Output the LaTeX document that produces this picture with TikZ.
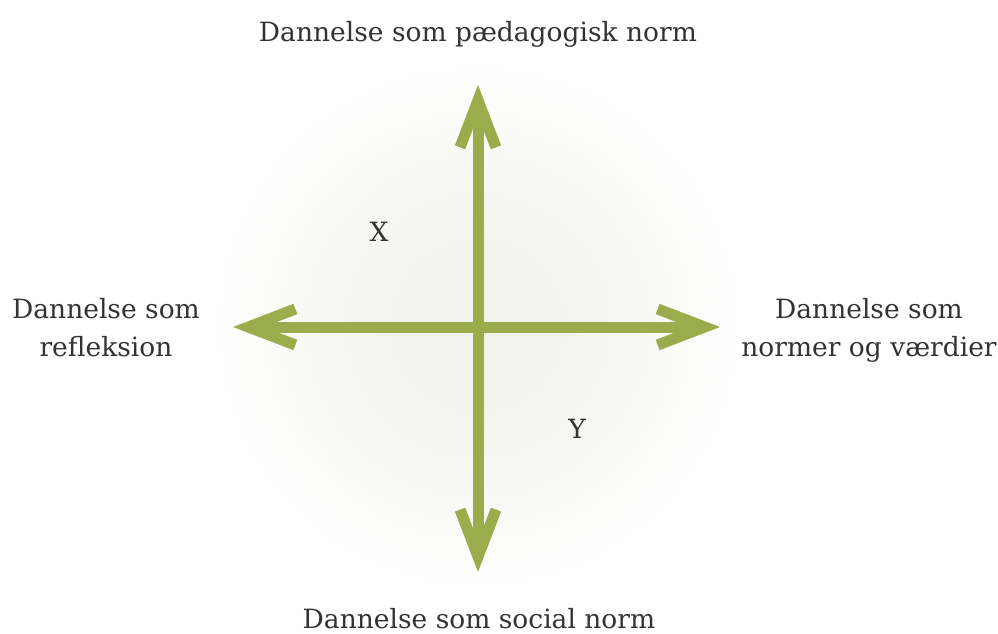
\documentclass[tikz,border=0pt]{standalone}
\usepackage{fontspec}
\setmainfont{DejaVu Serif}
\usepackage{tikz}
\usetikzlibrary{arrows.meta}
\definecolor{groen}{HTML}{9BAC4C}
\definecolor{baggrund}{HTML}{F2F3EA}
\definecolor{skrift}{HTML}{333333}

\begin{document}
\begin{tikzpicture}[x=1pt,y=-1pt]
\tikzstyle{akse}=[groen, line width=11pt, {Straight Barb[sharp, length=47pt, width=36pt]}-{Straight Barb[sharp, length=47pt, width=36pt]}]
\tikzstyle{tekst}=[skrift, inner sep=0pt, align=center, anchor=base, font=\fontsize{26.5}{38}\selectfont]
\useasboundingbox (0,0) rectangle (998,634);
\fill[white] (0,0) rectangle (998,634);
% blød baggrund bag akserne
\foreach \r in {262,259,...,80}{
  \pgfmathsetmacro\p{(262-\r)/1.82}
  \fill[baggrund!\p!white] (478,326) circle (\r);
}
 \coordinate (midt) at (478,327);
 \coordinate (op) at (478,85);
 \coordinate (ned) at (478,572);
 \coordinate (venstre) at (233,327);
 \coordinate (hoejre) at (720,327);
 \draw[akse] (ned) -- (op);
 \draw[akse] (venstre) -- (hoejre);
 \node[tekst] (paedagogisk) at (478,42) {Dannelse som pædagogisk norm};
 \node[tekst] (social) at (479,628) {Dannelse som social norm};
 \node[tekst] (refleksion) at (106,356) {Dannelse som\\refleksion};
 \node[tekst] (normer) at (869,356) {Dannelse som\\normer og værdier};
 \node[tekst] (x) at (379,241) {X};
 \node[tekst] (y) at (577,438) {Y};
\end{tikzpicture}
\end{document}
